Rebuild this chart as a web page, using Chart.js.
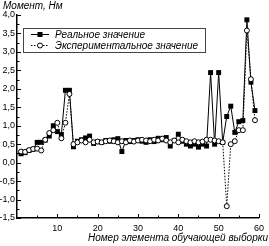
<!DOCTYPE html>
<html>
<head>
<meta charset="utf-8">
<script src="https://cdn.jsdelivr.net/npm/chart.js@4.4.1/dist/chart.umd.min.js"></script>
<style>
  html, body { margin: 0; padding: 0; background: #fff; }
  #box { width: 269px; height: 246px; }
</style>
</head>
<body>
<div id="box"><canvas id="momentChart"></canvas></div>
<script>
// sample numbers 1..59
const sampleIndex = [
  1, 2, 3, 4, 5, 6, 7, 8, 9, 10, 11, 12, 13, 14, 15, 16, 17, 18, 19, 20,
  21, 22, 23, 24, 25, 26, 27, 28, 29, 30, 31, 32, 33, 34, 35, 36, 37, 38, 39, 40,
  41, 42, 43, 44, 45, 46, 47, 48, 49, 50, 51, 52, 53, 54, 55, 56, 57, 58, 59
];

const realMoment = [
  0.24, 0.27, 0.33, 0.36, 0.55, 0.55, 0.61, 0.72, 1.00, 0.84,
  0.76, 1.96, 1.96, 0.43, 0.58, 0.62, 0.67, 0.72, 0.52, 0.57,
  0.55, 0.60, 0.58, 0.62, 0.65, 0.30, 0.60, 0.57, 0.60, 0.62,
  0.58, 0.55, 0.62, 0.57, 0.66, 0.62, 0.68, 0.45, 0.60, 0.77,
  0.58, 0.50, 0.45, 0.50, 0.42, 0.50, 0.45, 2.44, 0.50, 2.44,
  0.55, 1.25, 1.53, 0.82, 1.11, 1.14, 3.87, 2.18, 1.41
];

const expMoment = [
  0.30, 0.29, 0.34, 0.37, 0.38, 0.33, 0.62, 0.80, 0.88, 1.08,
  0.66, 1.08, 1.86, 0.50, 0.55, 0.60, 0.55, 0.62, 0.55, 0.57,
  0.55, 0.58, 0.60, 0.58, 0.55, 0.58, 0.55, 0.60, 0.57, 0.60,
  0.62, 0.60, 0.58, 0.62, 0.60, 0.65, 0.60, 0.55, 0.60, 0.55,
  0.62, 0.58, 0.55, 0.58, 0.55, 0.57, 0.62, 0.62, 0.60, 0.58,
  0.55, -1.18, 0.50, 0.58, 0.88, 0.88, 3.58, 2.26, 1.15
];

const seriesNames = ['Реальное значение', 'Экспериментальное значение'];
const yTitle = 'Момент, Нм';
const xTitle = 'Номер элемента обучающей выборки';

const fontName = '"Liberation Sans", Arial, sans-serif';

function toPoints(values) {
  return values.map((v, i) => ({ x: sampleIndex[i], y: v }));
}

function formatY(value) {
  const twice = value * 2;
  if (Math.abs(twice - Math.round(twice)) > 1e-6) return '';
  return value.toFixed(1).replace('.', ',');
}

// inside tick marks, legend box and the two axis titles
const decorPlugin = {
  id: 'decor',
  afterDraw(chart) {
    const ctx = chart.ctx;
    const xs = chart.scales.x;
    const ys = chart.scales.y;
    const area = chart.chartArea;

    ctx.save();
    ctx.strokeStyle = '#000';
    ctx.lineWidth = 1;
    ctx.beginPath();
    xs.ticks.forEach(t => {
      if (t.value <= xs.min) return;
      const px = Math.round(xs.getPixelForValue(t.value)) + 0.5;
      const len = t.value % 10 === 0 ? 4 : 2.5;
      ctx.moveTo(px, area.bottom);
      ctx.lineTo(px, area.bottom - len);
    });
    ys.ticks.forEach(t => {
      const py = Math.round(ys.getPixelForValue(t.value)) + 0.5;
      const len = formatY(t.value) ? 4 : 2.5;
      ctx.moveTo(area.left, py);
      ctx.lineTo(area.left + len, py);
    });
    ctx.stroke();

    // legend
    ctx.fillStyle = '#fff';
    ctx.fillRect(23.5, 28.5, 182, 24);
    ctx.strokeStyle = '#444';
    ctx.strokeRect(23.5, 28.5, 182, 24);

    ctx.font = 'italic 10px ' + fontName;
    ctx.textBaseline = 'middle';
    ctx.textAlign = 'left';
    chart.data.datasets.forEach((ds, i) => {
      const cy = 34.5 + i * 11;
      ctx.strokeStyle = '#000';
      ctx.lineWidth = 1;
      ctx.setLineDash(ds.borderDash || []);
      ctx.beginPath();
      ctx.moveTo(31, cy);
      ctx.lineTo(49, cy);
      ctx.stroke();
      ctx.setLineDash([]);
      ctx.fillStyle = ds.pointBackgroundColor;
      ctx.strokeStyle = '#000';
      ctx.lineWidth = ds.pointBorderWidth;
      ctx.beginPath();
      if (ds.pointStyle === 'rect') {
        ctx.rect(37.5, cy - 2.5, 5, 5);
        ctx.fillStyle = '#000';
        ctx.fill();
      } else {
        ctx.arc(40, cy, ds.pointRadius, 0, Math.PI * 2);
        ctx.fill();
        ctx.stroke();
      }
      ctx.fillStyle = '#000';
      ctx.fillText(ds.label, 55, cy + 0.5);
    });

    ctx.font = 'italic 10px ' + fontName;
    ctx.fillText(yTitle, 3, 6);
    ctx.textAlign = 'right';
    ctx.fillText(xTitle, 268, 238);
    ctx.restore();
  }
};

const ctx = document.getElementById('momentChart').getContext('2d');

new Chart(ctx, {
  type: 'line',
  data: {
    datasets: [
      {
        label: seriesNames[0],
        data: toPoints(realMoment),
        borderColor: '#000',
        borderWidth: 1,
        pointStyle: 'rect',
        pointRadius: 3.5,
        pointBorderWidth: 0,
        pointBackgroundColor: '#000',
        pointBorderColor: '#000',
        order: 1
      },
      {
        label: seriesNames[1],
        data: toPoints(expMoment),
        borderColor: '#000',
        borderWidth: 1,
        borderDash: [1.5, 1.5],
        pointStyle: 'circle',
        pointRadius: 2.5,
        pointBorderWidth: 1,
        pointBackgroundColor: '#fff',
        pointBorderColor: '#000',
        order: 0
      }
    ]
  },
  options: {
    responsive: true,
    maintainAspectRatio: false,
    animation: false,
    clip: false,
    layout: { padding: { top: 15, right: 7, left: 0, bottom: 0 } },
    plugins: {
      legend: { display: false },
      tooltip: { enabled: false }
    },
    scales: {
      x: {
        type: 'linear',
        min: 0,
        max: 60,
        afterFit: scale => { scale.height = 28; },
        grid: { display: false, drawTicks: false },
        border: { display: true, color: '#000', width: 1.5 },
        ticks: {
          stepSize: 5,
          autoSkip: false,
          maxRotation: 0,
          padding: 5,
          color: '#000',
          font: { family: fontName, size: 9 },
          callback: v => (v % 10 === 0 && v > 0 ? String(v) : '')
        }
      },
      y: {
        min: -1.5,
        max: 4,
        afterFit: scale => { scale.width = 17; },
        grid: { display: false, drawTicks: false },
        border: { display: true, color: '#000', width: 1.5 },
        ticks: {
          stepSize: 0.25,
          autoSkip: false,
          padding: 2,
          color: '#000',
          font: { family: fontName, size: 9 },
          callback: v => formatY(v)
        }
      }
    }
  },
  plugins: [decorPlugin]
});
</script>
</body>
</html>
